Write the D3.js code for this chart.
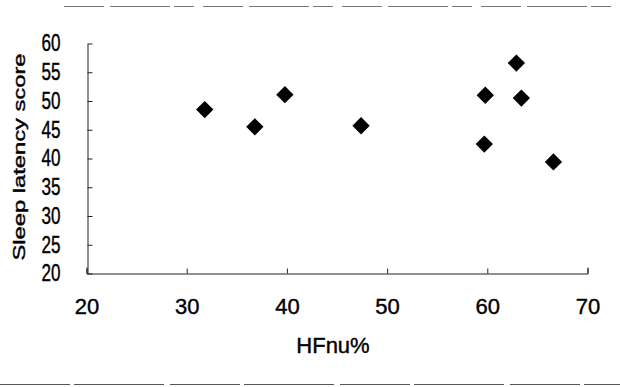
<!DOCTYPE html>
<html>
<head>
<meta charset="utf-8">
<script src="https://cdn.jsdelivr.net/npm/d3@7"></script>
<style>
  body { margin: 0; background: #fff; }
  svg { display: block; }
  text { font-family: "Liberation Sans", Arial, sans-serif; fill: #000; stroke: #000; stroke-width: 0.4px; }
</style>
</head>
<body>
<div id="chart"></div>
<script>
// HFnu% vs sleep latency score
const hfnu = [31.8, 36.8, 39.8, 47.4, 59.7, 59.8, 62.9, 63.4, 66.6];
const sleepLatency = [48.5, 45.5, 51.1, 45.7, 42.5, 51.0, 56.6, 50.5, 39.4];
const xTicks = [20, 30, 40, 50, 60, 70];
const yTicks = [20, 25, 30, 35, 40, 45, 50, 55, 60];

const W = 620, H = 387;

const svg = d3.select('#chart').append('svg')
  .attr('width', W)
  .attr('height', H);

const x = d3.scaleLinear().domain([20, 70]).range([86.5, 587.5]);
const y = d3.scaleLinear().domain([20, 60]).range([273.5, 43.5]);

// faint page edges from the scan
svg.append('line')
  .attr('x1', 64).attr('x2', W).attr('y1', 6.5).attr('y2', 6.5)
  .attr('stroke', '#777').attr('stroke-width', 1).attr('stroke-dasharray', '40 6 60 4 20 9');
svg.append('line')
  .attr('x1', 0).attr('x2', W).attr('y1', 384.5).attr('y2', 384.5)
  .attr('stroke', '#555').attr('stroke-width', 1.2).attr('stroke-dasharray', '70 4 90 6');

// x axis
const gx = svg.append('g')
  .attr('transform', 'translate(0,273.5)')
  .call(d3.axisBottom(x).tickValues(xTicks).tickSizeInner(-5).tickSizeOuter(-6).tickPadding(25));
gx.select('.domain').attr('stroke', '#222');
gx.selectAll('.tick line').attr('stroke', '#222');
gx.selectAll('.tick text')
  .style('font-size', '22px')
  .attr('fill', '#000');

// y axis
const gy = svg.append('g')
  .attr('transform', 'translate(87.5,0)')
  .call(d3.axisLeft(y).tickValues(yTicks).tickSizeInner(-5).tickSizeOuter(0).tickPadding(27));
gy.select('.domain').attr('stroke', '#222');
gy.selectAll('.tick line').attr('stroke', '#222');
gy.selectAll('.tick text')
  .style('font-size', '23px')
  .attr('textLength', 19)
  .attr('lengthAdjust', 'spacingAndGlyphs')
  .attr('fill', '#000');

// axis titles
svg.append('text')
  .attr('x', 333)
  .attr('y', 353)
  .attr('text-anchor', 'middle')
  .style('font-size', '22px')
  .text('HFnu%');

svg.append('text')
  .attr('transform', 'translate(24.5,157) rotate(-90)')
  .attr('text-anchor', 'middle')
  .style('font-size', '17px')
  .attr('textLength', 207)
  .attr('lengthAdjust', 'spacingAndGlyphs')
  .text('Sleep latency score');

// diamonds
const pts = hfnu.map((v, i) => ({x: v, y: sleepLatency[i]}));
const diamond = d3.symbol().type(d3.symbolSquare).size(150);

svg.append('g').selectAll('path')
  .data(pts)
  .enter()
  .append('path')
  .attr('d', diamond)
  .attr('transform', d => `translate(${x(d.x)},${y(d.y)}) rotate(45)`)
  .attr('fill', '#000');
</script>
</body>
</html>
